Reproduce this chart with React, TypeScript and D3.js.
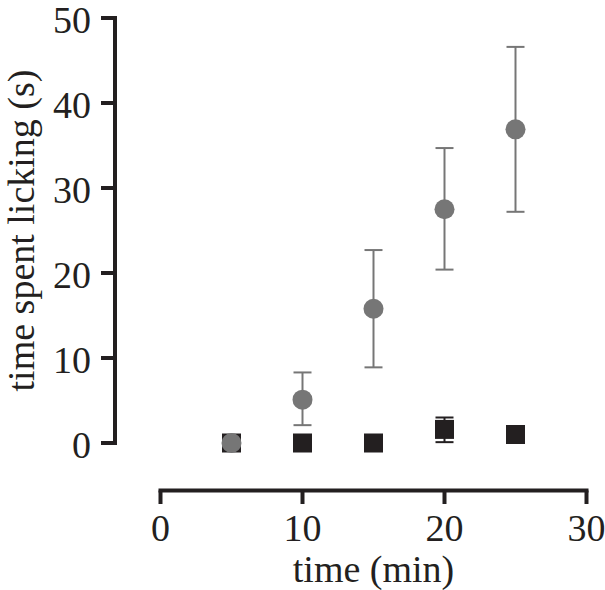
import { useEffect, useRef } from "react";
import * as d3 from "d3";

// minutes
const times = [5, 10, 15, 20, 25];
// grey circles
const circleMean = [0, 5.1, 15.8, 27.5, 36.9];
const circleLow = [0, 2.1, 8.9, 20.4, 27.2];
const circleHigh = [0, 8.3, 22.7, 34.7, 46.6];
// black squares
const squareMean = [0, 0, 0, 1.6, 1.0];
const squareLow = [0, 0, 0, 0.1, 0.6];
const squareHigh = [0, 0, 0, 3.0, 1.4];

const xTicks = [0, 10, 20, 30];
const yTicks = [0, 10, 20, 30, 40, 50];

const W = 605;
const H = 590;
const FONT = "'Liberation Serif', 'Times New Roman', serif";
const FS = 38;
const AXIS = "#231f20";
const GREY = "#767676";

export default function App() {
  const ref = useRef<SVGSVGElement>(null);

  useEffect(() => {
    if (!ref.current) return;
    const svg = d3.select(ref.current);
    svg.selectAll("*").remove();

    const x = d3.scaleLinear().domain([0, 30]).range([160.5, 586.5]);
    const y = d3.scaleLinear().domain([0, 50]).range([443, 18]);
    const yAxisX = 115;
    const xAxisY = 490.5;

    // y axis
    const gy = svg.append("g");
    gy.append("line")
      .attr("x1", yAxisX).attr("x2", yAxisX)
      .attr("y1", y(50) - 2).attr("y2", y(0) + 2)
      .attr("stroke", AXIS).attr("stroke-width", 4);
    yTicks.forEach(t => {
      gy.append("line")
        .attr("x1", 101).attr("x2", yAxisX)
        .attr("y1", y(t)).attr("y2", y(t))
        .attr("stroke", AXIS).attr("stroke-width", 4);
      gy.append("text")
        .attr("x", 91).attr("y", y(t))
        .attr("dy", "0.4em")
        .attr("text-anchor", "end")
        .attr("font-family", FONT).attr("font-size", FS)
        .attr("fill", AXIS)
        .text(String(t));
    });

    // x axis
    const gx = svg.append("g");
    gx.append("line")
      .attr("x1", x(0) - 2).attr("x2", x(30) + 2)
      .attr("y1", xAxisY).attr("y2", xAxisY)
      .attr("stroke", AXIS).attr("stroke-width", 4);
    xTicks.forEach(t => {
      gx.append("line")
        .attr("x1", x(t)).attr("x2", x(t))
        .attr("y1", xAxisY).attr("y2", 504)
        .attr("stroke", AXIS).attr("stroke-width", 4);
      gx.append("text")
        .attr("x", x(t)).attr("y", 541)
        .attr("text-anchor", "middle")
        .attr("font-family", FONT).attr("font-size", FS)
        .attr("fill", AXIS)
        .text(String(t));
    });

    // titles
    svg.append("text")
      .attr("x", 373.5).attr("y", 582)
      .attr("text-anchor", "middle")
      .attr("font-family", FONT).attr("font-size", FS)
      .attr("fill", AXIS)
      .text("time (min)");
    svg.append("text")
      .attr("transform", `translate(34,${(y(0) + y(50)) / 2}) rotate(-90)`)
      .attr("text-anchor", "middle")
      .attr("font-family", FONT).attr("font-size", FS)
      .attr("fill", AXIS)
      .text("time spent licking (s)");

    const cap = 9;
    const drawErr = (g: d3.Selection<SVGGElement, unknown, null, undefined>, lo: number[], hi: number[], color: string) => {
      times.forEach((t, i) => {
        if (hi[i] - lo[i] < 0.05) return;
        const cx = x(t);
        g.append("line")
          .attr("x1", cx).attr("x2", cx)
          .attr("y1", y(lo[i])).attr("y2", y(hi[i]))
          .attr("stroke", color).attr("stroke-width", 2);
        [lo[i], hi[i]].forEach(v => {
          g.append("line")
            .attr("x1", cx - cap).attr("x2", cx + cap)
            .attr("y1", y(v)).attr("y2", y(v))
            .attr("stroke", color).attr("stroke-width", 2);
        });
      });
    };

    // squares (under circles)
    const gs = svg.append("g");
    drawErr(gs, squareLow, squareHigh, AXIS);
    const sq = 19;
    gs.selectAll("rect")
      .data(times)
      .join("rect")
      .attr("x", t => x(t) - sq / 2)
      .attr("y", (_, i) => y(squareMean[i]) - sq / 2)
      .attr("width", sq).attr("height", sq)
      .attr("fill", AXIS);

    // circles
    const gc = svg.append("g");
    drawErr(gc, circleLow, circleHigh, GREY);
    gc.selectAll("circle")
      .data(times)
      .join("circle")
      .attr("cx", t => x(t))
      .attr("cy", (_, i) => y(circleMean[i]))
      .attr("r", 10)
      .attr("fill", GREY);
  }, []);

  return (
    <svg
      ref={ref}
      width={W}
      height={H}
      style={{ position: "absolute", left: 0, top: 0, background: "#fff" }}
    />
  );
}
